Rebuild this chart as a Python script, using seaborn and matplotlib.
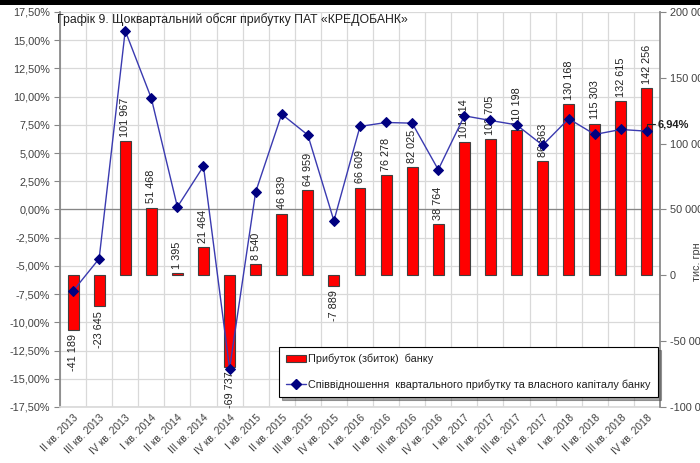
import numpy as np
import pandas as pd
import matplotlib
matplotlib.use('Agg')
import matplotlib.pyplot as plt
import seaborn as sns
from matplotlib.patches import Rectangle, Patch
from matplotlib.lines import Line2D
from matplotlib.ticker import FuncFormatter

# data
quarters = ['II кв. 2013', 'III кв. 2013', 'IV кв. 2013',
            'I кв. 2014', 'II кв. 2014', 'III кв. 2014', 'IV кв. 2014',
            'I кв. 2015', 'II кв. 2015', 'III кв. 2015', 'IV кв. 2015',
            'I кв. 2016', 'II кв. 2016', 'III кв. 2016', 'IV кв. 2016',
            'I кв. 2017', 'II кв. 2017', 'III кв. 2017', 'IV кв. 2017',
            'I кв. 2018', 'II кв. 2018', 'III кв. 2018', 'IV кв. 2018']
profit = [-41189, -23645, 101967, 51468, 1395, 21464, -69737,
          8540, 46839, 64959, -7889, 66609, 76278, 82025, 38764,
          101114, 103705, 110198, 86863, 130168, 115303, 132615, 142256]
ratio_pct = [-7.22, -4.36, 15.84, 9.86, 0.23, 3.83, -14.10,
             1.55, 8.45, 6.60, -1.00, 7.36, 7.71, 7.65, 3.53,
             8.30, 7.89, 7.50, 5.70, 8.04, 6.65, 7.09, 6.94]

title = 'Графік 9. Щоквартальний обсяг прибутку ПАТ «КРЕДОБАНК»'
bar_name = 'Прибуток (збиток)  банку'
line_name = 'Співвідношення  квартального прибутку та власного капіталу банку'

df = pd.DataFrame({'quarter': quarters, 'profit': profit, 'ratio': ratio_pct})
df['pos'] = np.arange(len(df))

sns.set_theme(style='white')
plt.rcParams['font.family'] = ['Liberation Sans', 'DejaVu Sans']

txt_color = '#404040'
axis_color = '#868686'
line_color = '#3A3AB0'
mark_color = '#000080'

fig = plt.figure(figsize=(7, 4.63), dpi=100)
ax = fig.add_axes([60/700, 1-407/463, 600/700, 395/463])   # percent scale, grid
ax2 = ax.twinx()                                             # bars, right scale
ax3 = ax.twinx()                                             # line, percent scale

# bars
sns.barplot(data=df, x='quarter', y='profit', ax=ax2, color='#FF0000',
            saturation=1, width=0.42, edgecolor='#404040', linewidth=0.8)
labels = [f'{v:,}'.replace(',', ' ') for v in profit]
ax2.bar_label(ax2.containers[0], labels=labels, rotation=90, padding=3,
              fontsize=7.8, color='#202020')
ax2.set_ylim(-100000, 200000)
ax2.set_yticks(np.arange(-100000, 200001, 50000))
ax2.yaxis.set_major_formatter(FuncFormatter(lambda v, _: f'{int(v):,}'.replace(',', ' ')))
ax2.set_xlabel('')
ax2.set_ylabel('')
ax2.tick_params(axis='y', labelsize=7.8, labelcolor=txt_color, length=4,
                color=axis_color, width=0.8, pad=3, right=True)

# line
sns.lineplot(data=df, x='pos', y='ratio', ax=ax3, color=line_color, lw=1,
             marker='D', markersize=5, markerfacecolor=mark_color,
             markeredgecolor=mark_color)
ax3.set_ylim(-17.5, 17.5)
ax3.yaxis.set_visible(False)
ax3.set_xlabel('')
ax3.annotate('6,94%', xy=(df['pos'].iloc[-1], ratio_pct[-1]), xytext=(8, 5),
             textcoords='offset points', fontsize=8, fontweight='bold',
             color='#202020', va='center', ha='left', annotation_clip=False,
             arrowprops=dict(arrowstyle='-', color='#202020', lw=0.8,
                             shrinkA=0, shrinkB=2,
                             connectionstyle='angle,angleA=0,angleB=90,rad=0'))

# percent axis with grid
ax.set_ylim(-17.5, 17.5)
ax.set_yticks(np.arange(-17.5, 17.51, 2.5))
ax.yaxis.set_major_formatter(FuncFormatter(lambda v, _: f'{v:.2f}'.replace('.', ',').replace('-0,00', '0,00') + '%'))
ax.tick_params(axis='y', labelsize=7.8, labelcolor=txt_color, length=4,
               color=axis_color, width=0.8, pad=3, left=True)
ax.set_xlim(-0.5, len(quarters) - 0.5)
ax.set_xticks(np.arange(len(quarters)))
ax.set_xticklabels(quarters, rotation=45, ha='right', rotation_mode='anchor',
                   fontsize=7.5, color=txt_color)
ax.set_xticks(np.arange(-0.5, len(quarters), 1), minor=True)
ax.tick_params(axis='x', which='both', length=0, pad=4)
ax.grid(axis='y', which='major', color='#D9D9D9', lw=0.9)
ax.grid(axis='x', which='minor', color='#D9D9D9', lw=0.9)
ax.axhline(0, color=axis_color, lw=0.9)
ax3.set_xlim(-0.5, len(quarters) - 0.5)

for a in (ax, ax2, ax3):
    for side in a.spines:
        a.spines[side].set_visible(False)
ax.spines['left'].set_visible(True)
ax.spines['left'].set_color(axis_color)
ax.spines['bottom'].set_visible(True)
ax.spines['bottom'].set_color('#D9D9D9')
ax2.spines['right'].set_visible(True)
ax2.spines['right'].set_color(axis_color)

# legend
handles = [Patch(facecolor='#FF0000', edgecolor='#404040', lw=0.8, label=bar_name),
           Line2D([], [], color=line_color, lw=1, marker='D', markersize=5,
                  markerfacecolor=mark_color, markeredgecolor=mark_color,
                  label=line_name)]
leg = ax3.legend(handles=handles, loc='upper right',
                 bbox_to_anchor=(658/700, 1-347/463), bbox_transform=fig.transFigure,
                 fontsize=7.8, frameon=True, fancybox=False, shadow=True,
                 framealpha=1, edgecolor='black', borderpad=0.65,
                 labelspacing=1.4, handlelength=1.8, handletextpad=0.25,
                 borderaxespad=0)
leg.get_frame().set_linewidth(0.8)
for t in leg.get_texts():
    t.set_color('#202020')

fig.text(57/700, 1-20/463, title, fontsize=8.8, color='#202020', ha='left', va='center')
fig.text(697/700, 1-262/463, 'тис. грн', rotation=90, fontsize=7.8,
         color=txt_color, ha='center', va='center')
fig.add_artist(Rectangle((0, 1-4.5/463), 1, 4.5/463, transform=fig.transFigure,
                         color='black', lw=0))

fig.savefig('out.png', dpi=100)
